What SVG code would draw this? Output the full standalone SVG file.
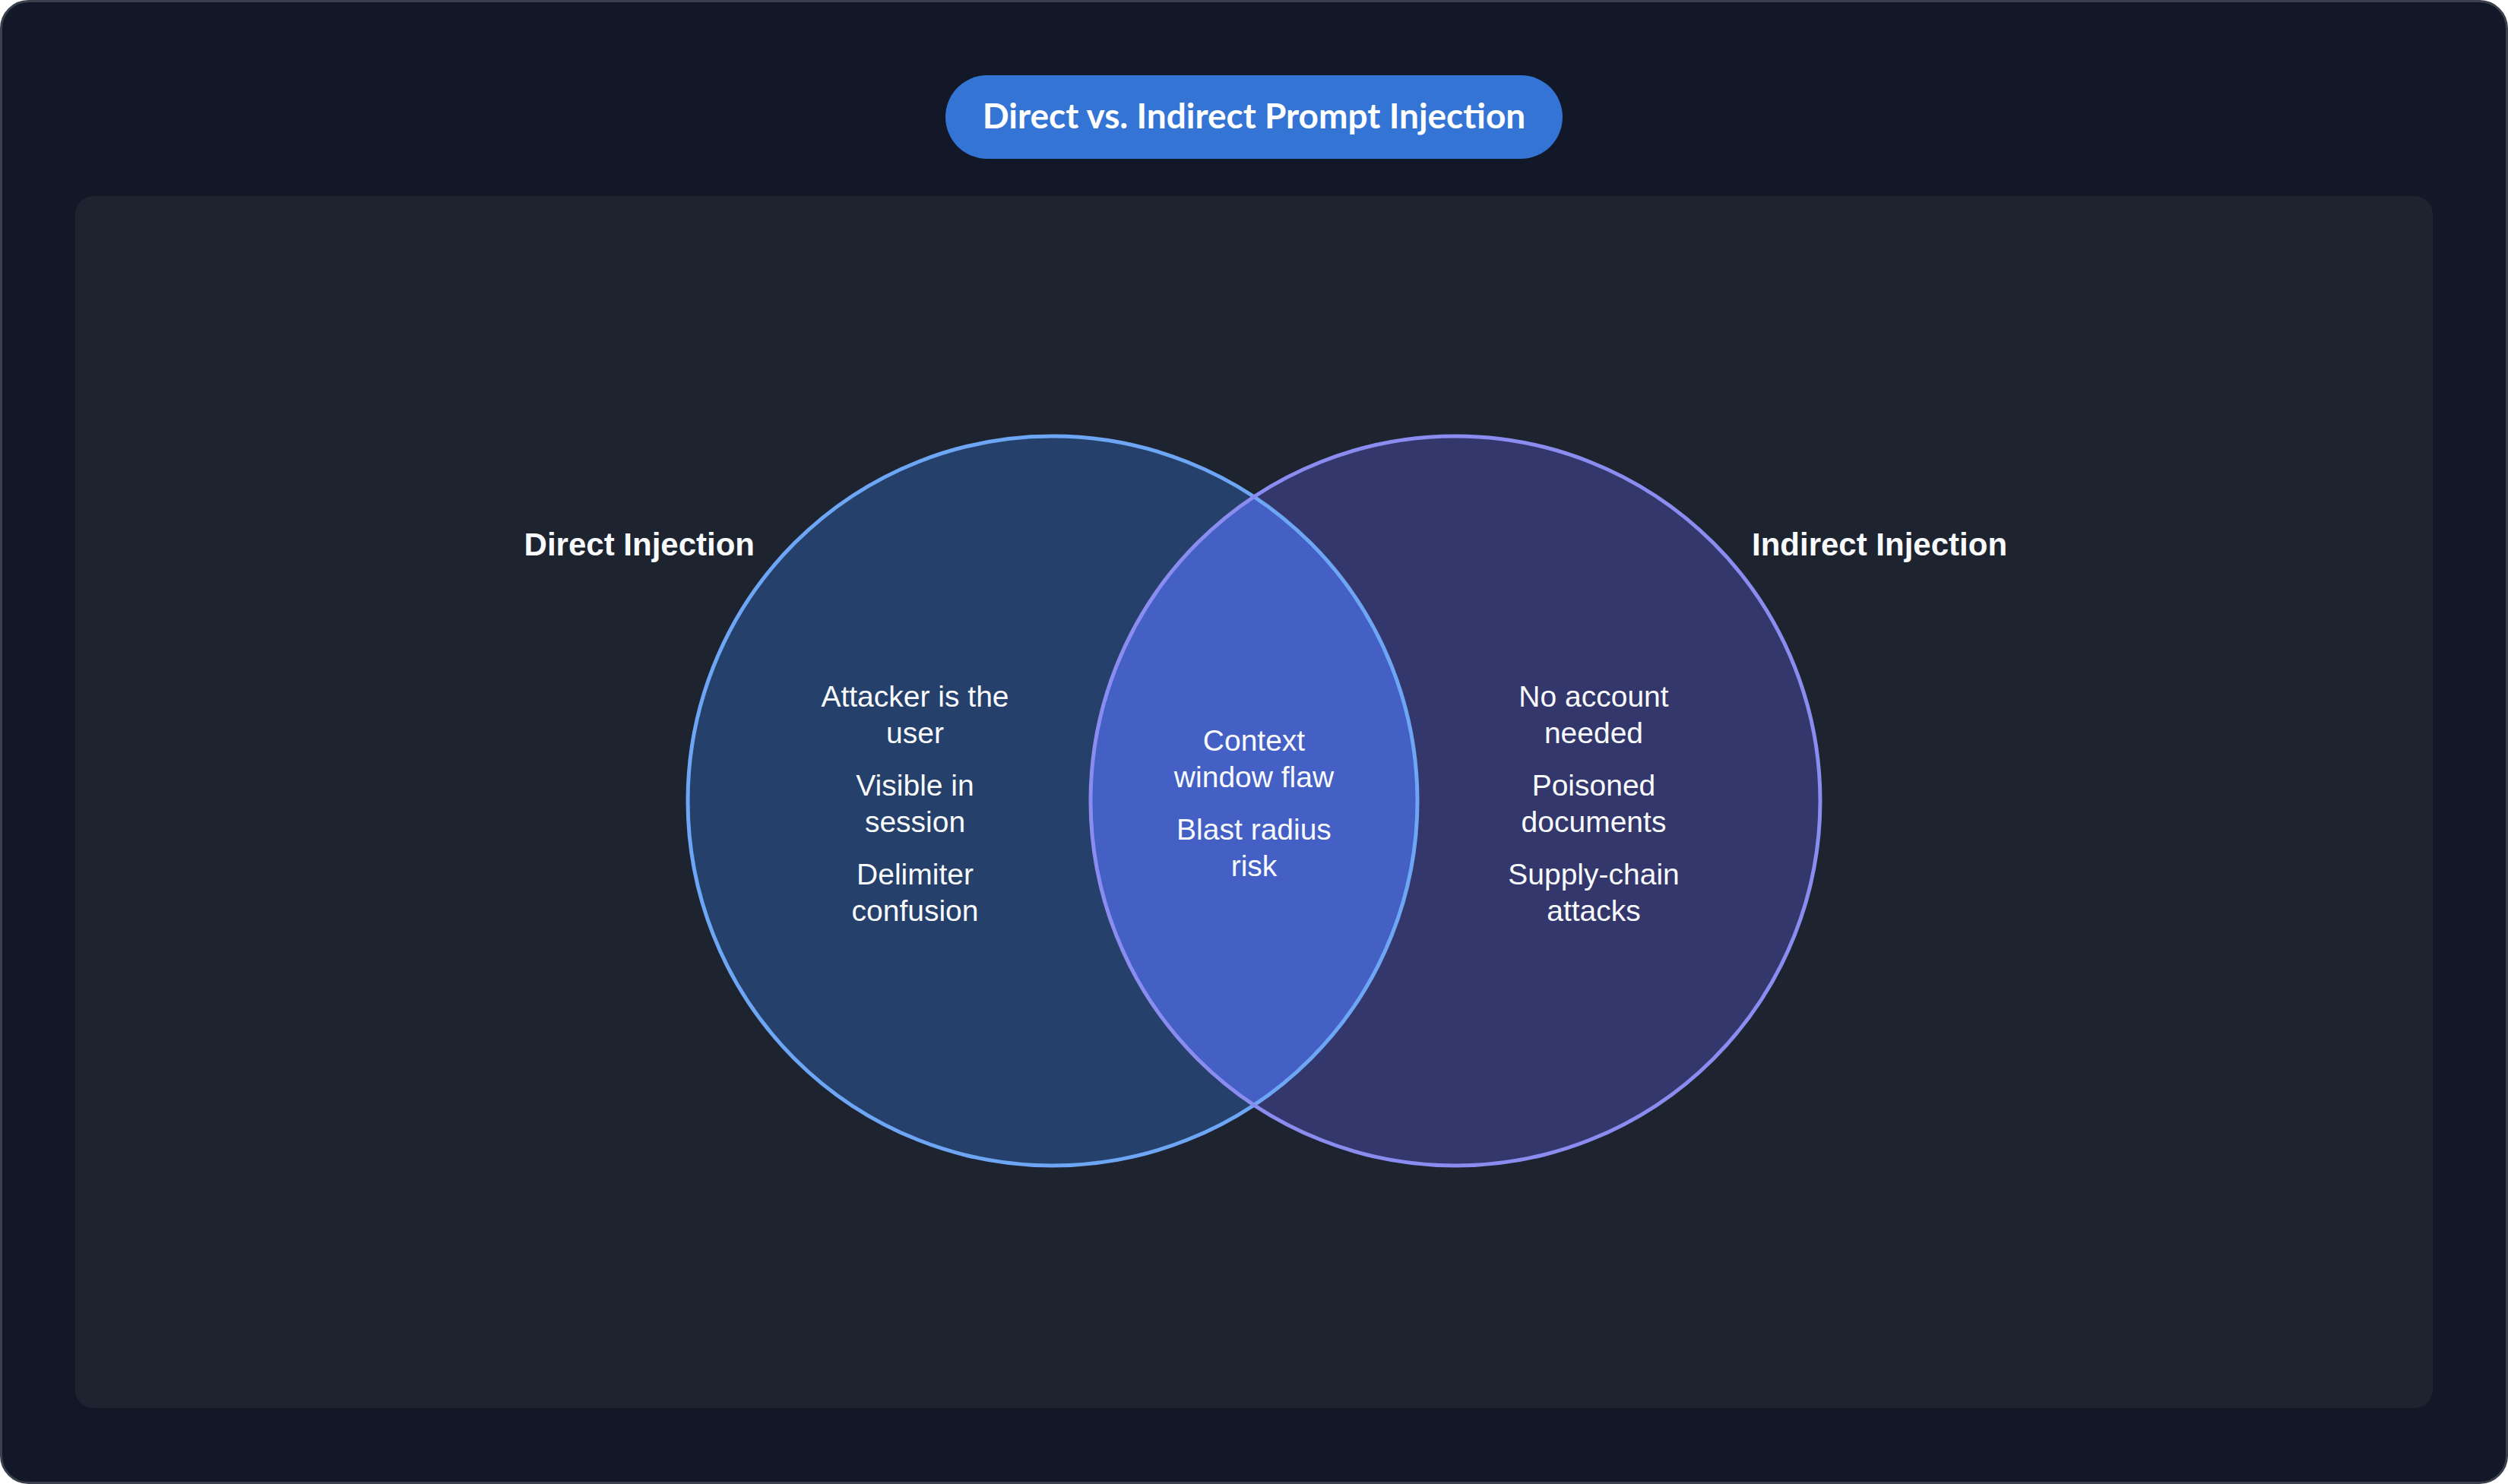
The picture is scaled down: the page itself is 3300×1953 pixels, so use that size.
<svg xmlns="http://www.w3.org/2000/svg" width="3300" height="1953" viewBox="0 0 3300 1953">
<style>
.lbl{font-family:"Liberation Sans",Arial,sans-serif;font-weight:700;font-size:42px;fill:#f8fafc}
.item{font-family:"Liberation Sans",Arial,sans-serif;font-size:39px;fill:#f8fafc;text-anchor:middle}
.title{font-family:Lato,"Liberation Sans",sans-serif;font-weight:700;font-size:46px;fill:#ffffff;text-anchor:middle}
</style>
<defs>
<clipPath id="clipL"><circle cx="1385" cy="1054" r="480"/></clipPath>
</defs>
<rect x="1.5" y="1.5" width="3297" height="1950" rx="36" fill="#121827" stroke="#3a414d" stroke-width="3"/>
<rect x="99" y="258" width="3102" height="1595" rx="24" fill="#1e2330"/>
<g id="title">
<rect x="1244" y="99" width="812" height="110" rx="55" fill="#3474d4"/>
<text class="title" x="1650" y="169">Direct vs. Indirect Prompt Injection</text>
</g>
<g id="direct">
<circle cx="1385" cy="1054" r="480" fill="#25406a"/>
</g>
<g id="indirect">
<circle cx="1915" cy="1054" r="480" fill="#33376b"/>
</g>
<g id="overlap">
<circle cx="1915" cy="1054" r="480" fill="#4460c4" clip-path="url(#clipL)"/>
</g>
<g id="outlines" fill="none" stroke-width="5">
<circle cx="1385" cy="1054" r="480" stroke="#6ea6f6"/>
<circle cx="1915" cy="1054" r="480" stroke="#8b8cf0"/>
</g>
<g id="labels">
<text class="lbl" x="993" y="731" text-anchor="end">Direct Injection</text>
<text class="lbl" x="2305" y="731">Indirect Injection</text>
</g>
<g id="direct-items">
<text class="item" x="1204" y="930">Attacker is the</text>
<text class="item" x="1204" y="978">user</text>
<text class="item" x="1204" y="1047">Visible in</text>
<text class="item" x="1204" y="1095">session</text>
<text class="item" x="1204" y="1164">Delimiter</text>
<text class="item" x="1204" y="1212">confusion</text>
</g>
<g id="overlap-items">
<text class="item" x="1650" y="988">Context</text>
<text class="item" x="1650" y="1036">window flaw</text>
<text class="item" x="1650" y="1105">Blast radius</text>
<text class="item" x="1650" y="1153">risk</text>
</g>
<g id="indirect-items">
<text class="item" x="2097" y="930">No account</text>
<text class="item" x="2097" y="978">needed</text>
<text class="item" x="2097" y="1047">Poisoned</text>
<text class="item" x="2097" y="1095">documents</text>
<text class="item" x="2097" y="1164">Supply-chain</text>
<text class="item" x="2097" y="1212">attacks</text>
</g>
</svg>
